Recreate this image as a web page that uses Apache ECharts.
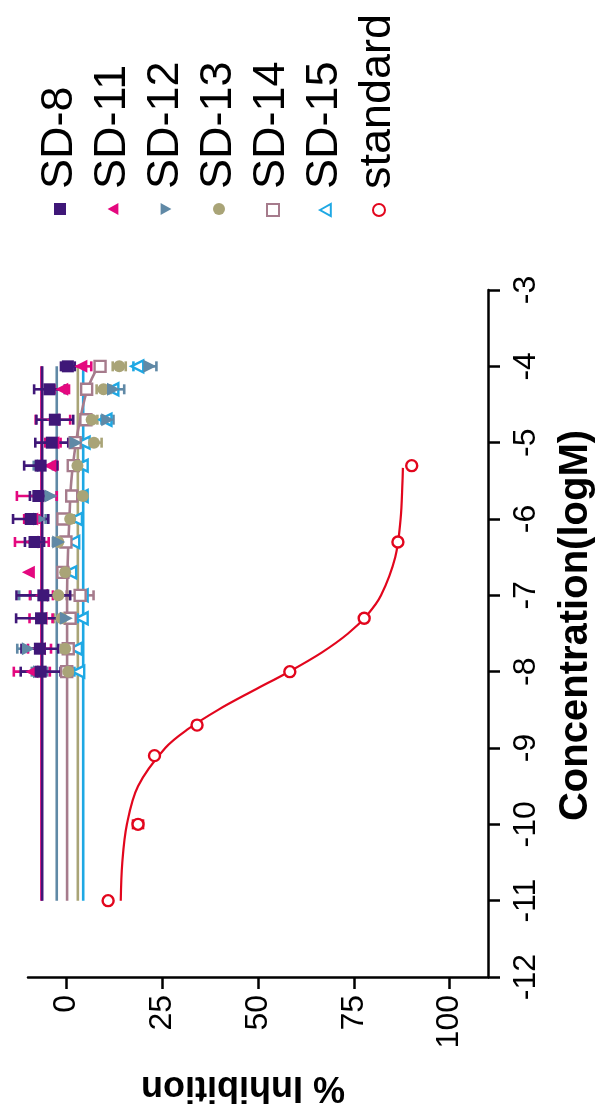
<!DOCTYPE html>
<html>
<head>
<meta charset="utf-8">
<script src="https://cdn.jsdelivr.net/npm/echarts@6/dist/echarts.min.js"></script>
<style>
  html, body { margin: 0; padding: 0; background: #fff; }
  #chart { width: 599px; height: 1113px; }
</style>
</head>
<body>
<div id="chart"></div>
<script>
// Concentration levels (log M) tested for the SD compounds
const CONC = [-4, -4.301, -4.699, -5, -5.301, -5.699, -6, -6.301, -6.699, -7, -7.301, -7.699, -8];

// Mean % inhibition and error for each compound (null = no point)
const SD8_MEAN  = [0.4, -4.4, -3.0, -3.8, -6.7, -7.3, -9.3, -8.3, null, -6.0, -6.6, -6.9, -6.7];
const SD8_ERR   = [1.8, 4.0, 4.8, 4.3, 4.3, 2.2, 4.6, 2.5, null, 7.0, 6.5, 4.8, 5.2];
const SD11_MEAN = [3.8, -1.2, -3.5, -3.5, -4.3, -7.7, -9.0, -9.0, -9.9, -6.5, -6.6, -7.0, -9.0];
const SD11_ERR  = [2.7, 1.9, 4.5, 2.0, 2.0, 5.2, 2.0, 4.4, 0, 3.0, 3.0, 3.0, 4.7];
const SD12_MEAN = [21.8, 12.3, 10.8, 2.5, -6.0, -4.0, -6.9, -2.0, null, -10.8, 0.0, -9.9, -7.0];
const SD12_ERR  = [1.7, 2.8, 1.5, 1.5, 2.5, 1.5, 1.5, 1.5, null, 1.5, 1.5, 2.9, 2.0];
const SD13_MEAN = [13.8, 9.7, 6.6, 7.2, 2.9, 4.3, 1.0, -2.1, -0.3, -2.1, -1.2, -0.3, 0.5];
const SD13_ERR  = [1.7, 1.8, 1.5, 2.0, 1.0, 1.0, 1.0, 1.0, 1.0, 3.0, 2.0, 1.0, 1.0];
const SD14_MEAN = [8.8, 5.3, 5.1, 2.3, 1.8, 1.4, -0.9, -0.1, -0.9, 3.6, 1.0, 0.5, 0.1];
const SD14_ERR  = [0.8, 0.8, 0.8, 0.8, 0.8, 0.8, 0.8, 0.8, 0.8, 3.5, 0.8, 0.8, 0.8];
const SD15_MEAN = [18.5, 12.0, 10.2, 4.5, 4.0, 4.0, 2.5, 1.8, 1.0, 4.0, 4.0, 2.5, 3.1];
const SD15_ERR  = [1.0, 1.0, 1.0, 1.0, 1.0, 1.0, 1.0, 1.0, 1.0, 1.0, 1.0, 1.0, 1.0];

// Reference compound
const STD_CONC = [-11, -10, -9.1, -8.7, -8, -7.301, -6.301, -5.301];
const STD_MEAN = [10.9, 18.7, 23.0, 34.1, 58.3, 77.7, 86.5, 90.1];
const STD_ERR  = [0, 1.3, 0, 0, 0, 0.8, 0, 0];

// Fitted curves: flat fits for most compounds, sigmoid fits for SD-14 and standard
const FIT_RANGE = [-11, -4];
const SD8_FIT = -6.3, SD11_FIT = -6.5, SD12_FIT = -2.5, SD13_FIT = 3.0, SD15_FIT = 4.4;
const SD14_FIT_CONC = [-11, -7, -6.5, -6, -5.5, -5, -4.699, -4.301, -4];
const SD14_FIT_VAL  = [0.2, 0.2, 0.4, 0.8, 1.3, 2.5, 3.6, 5.5, 8.3];
const STD_FIT_CONC = [-11, -10.5, -10, -9.5, -9, -8.75, -8.5, -8.25, -8, -7.75, -7.5, -7.25, -7, -6.5, -6, -5.5, -5.33];
const STD_FIT_VAL  = [14.2, 14.6, 15.8, 18.7, 25.8, 31.8, 39.6, 48.7, 58.1, 66.6, 73.5, 78.6, 82.1, 85.8, 87.2, 87.7, 87.8];

// Axis ticks
const X_TICKS = [0, 25, 50, 75, 100];
const NAMES = ['SD-8', 'SD-11', 'SD-12', 'SD-13', 'SD-14', 'SD-15', 'standard'];

const COLORS = {
  'SD-8': '#3f1778', 'SD-11': '#e4087f', 'SD-12': '#6089a6', 'SD-13': '#a9a477',
  'SD-14': '#a67b8c', 'SD-15': '#1ea8e4', 'standard': '#e2061d'
};

const FONT = '"Liberation Sans", Arial, sans-serif';
const TRI_LEFT = 'path://M0,5L9,0L9,10Z';
const TRI_RIGHT = 'path://M9,5L0,0L0,10Z';

function pts(mean, conc) {
  const out = [];
  mean.forEach((v, i) => { if (v !== null) out.push([v, conc[i]]); });
  return out;
}
function errs(mean, err, conc) {
  const out = [];
  mean.forEach((v, i) => { if (v !== null && err[i] > 0) out.push([conc[i], v - err[i], v + err[i]]); });
  return out;
}
function pair(vals, conc) { return vals.map((v, i) => [v, conc[i]]); }

function errorBars(name, data) {
  const color = COLORS[name];
  return {
    type: 'custom', name: name + ' err', data: data, z: 3,
    encode: { x: [1, 2], y: 0 },
    renderItem: function (params, api) {
      const c = api.value(0);
      const a = api.coord([api.value(1), c]);
      const b = api.coord([api.value(2), c]);
      const h = 5;
      const st = { stroke: color, lineWidth: 2.6 };
      return {
        type: 'group',
        children: [
          { type: 'line', shape: { x1: a[0], y1: a[1], x2: b[0], y2: b[1] }, style: st },
          { type: 'line', shape: { x1: a[0], y1: a[1] - h, x2: a[0], y2: a[1] + h }, style: st },
          { type: 'line', shape: { x1: b[0], y1: b[1] - h, x2: b[0], y2: b[1] + h }, style: st }
        ]
      };
    }
  };
}

function flatFit(name, v, z) {
  return {
    type: 'line', name: name + ' fit', data: [[v, FIT_RANGE[0]], [v, FIT_RANGE[1]]],
    symbol: 'none', z: z, lineStyle: { color: COLORS[name], width: 2.6 }, silent: true
  };
}

const SYMBOLS = {
  'SD-8':  { symbol: 'rect', open: false, size: 12 },
  'SD-11': { symbol: TRI_LEFT, open: false, size: 13 },
  'SD-12': { symbol: TRI_RIGHT, open: false, size: 13 },
  'SD-13': { symbol: 'circle', open: false, size: 12 },
  'SD-14': { symbol: 'rect', open: true, size: 11 },
  'SD-15': { symbol: TRI_LEFT, open: true, size: 12 },
  'standard': { symbol: 'circle', open: true, size: 11 }
};

function scatter(name, data) {
  const s = SYMBOLS[name];
  return {
    type: 'scatter', name: name, data: data, z: 5,
    symbol: s.symbol, symbolSize: s.size,
    itemStyle: s.open
      ? { color: '#fff', borderColor: COLORS[name], borderWidth: 2.4, opacity: 1 }
      : { color: COLORS[name], opacity: 1 }
  };
}

const MEANS = { 'SD-8': SD8_MEAN, 'SD-11': SD11_MEAN, 'SD-12': SD12_MEAN, 'SD-13': SD13_MEAN, 'SD-14': SD14_MEAN, 'SD-15': SD15_MEAN };
const ERRS  = { 'SD-8': SD8_ERR, 'SD-11': SD11_ERR, 'SD-12': SD12_ERR, 'SD-13': SD13_ERR, 'SD-14': SD14_ERR, 'SD-15': SD15_ERR };

const series = [
  flatFit('SD-15', SD15_FIT, 1),
  flatFit('SD-13', SD13_FIT, 1),
  { type: 'line', name: 'SD-14 fit', data: pair(SD14_FIT_VAL, SD14_FIT_CONC), smooth: 0.4,
    symbol: 'none', z: 1, lineStyle: { color: COLORS['SD-14'], width: 2.6 }, silent: true },
  flatFit('SD-12', SD12_FIT, 1),
  flatFit('SD-11', SD11_FIT, 1),
  flatFit('SD-8', SD8_FIT, 2),
  { type: 'line', name: 'standard fit', data: pair(STD_FIT_VAL, STD_FIT_CONC), smooth: 0.35,
    symbol: 'none', z: 2, lineStyle: { color: COLORS['standard'], width: 2.2 }, silent: true }
];
['SD-15', 'SD-14', 'SD-13', 'SD-12', 'SD-11', 'SD-8'].forEach(n => {
  series.push(errorBars(n, errs(MEANS[n], ERRS[n], CONC)));
  series.push(scatter(n, pts(MEANS[n], CONC)));
});
series.push(errorBars('standard', errs(STD_MEAN, STD_ERR, STD_CONC)));
series.push(scatter('standard', pair(STD_MEAN, STD_CONC)));

// Legend: one icon per compound, labels drawn as rotated text above each icon
const LEG_X0 = 60, LEG_DX = 53, LEG_Y = 209, LEG_TEXT_Y = 189;
const legends = NAMES.map((n, i) => ({
  data: [n], orient: 'horizontal', padding: 0, itemGap: 0,
  left: LEG_X0 + i * LEG_DX - 6, top: LEG_Y - 6, itemWidth: 12, itemHeight: 12,
  formatter: () => '', selectedMode: false
}));
const legendText = NAMES.map((n, i) => ({
  type: 'text', x: LEG_X0 + i * LEG_DX, y: LEG_TEXT_Y, rotation: Math.PI / 2,
  style: { text: n, fill: '#000', font: '45px ' + FONT,
           textAlign: 'left', textVerticalAlign: 'middle' }
}));

const chart = echarts.init(document.getElementById('chart'), null, { renderer: 'canvas' });
chart.setOption({
  animation: false,
  backgroundColor: '#fff',
  legend: legends,
  graphic: legendText,
  grid: { left: 28, right: 111, top: 290, bottom: 136, containLabel: false, outerBoundsMode: 'none' },
  xAxis: {
    type: 'value', min: -10, max: 110, position: 'bottom',
    axisLine: { show: true, onZero: false, lineStyle: { color: '#000', width: 2.5 } },
    axisTick: { show: true, customValues: X_TICKS, length: 12, lineStyle: { color: '#000', width: 2.5 } },
    axisLabel: { customValues: X_TICKS, rotate: 90, margin: 18, fontSize: 32, color: '#000', fontFamily: FONT },
    splitLine: { show: false },
    name: '% Inhibition', nameLocation: 'middle', nameRotate: 180, nameGap: 92,
    nameTextStyle: { fontSize: 36, fontWeight: 'bold', color: '#000', fontFamily: FONT,
                     padding: [0, 0, 0, 30] }
  },
  yAxis: {
    type: 'value', min: -12, max: -3, interval: 1, position: 'right',
    axisLine: { show: true, onZero: false, lineStyle: { color: '#000', width: 2.5 } },
    axisTick: { show: true, inside: false, length: 12, lineStyle: { color: '#000', width: 2.5 } },
    axisLabel: { rotate: 90, margin: 22, fontSize: 32, color: '#000', fontFamily: FONT },
    splitLine: { show: false },
    name: 'Concentration(logM)', nameLocation: 'middle', nameRotate: 90, nameGap: 68,
    nameTextStyle: { fontSize: 40, fontWeight: 'bold', color: '#000', fontFamily: FONT,
                     padding: [0, 0, 0, 16] }
  },
  series: series
});
</script>
</body>
</html>
